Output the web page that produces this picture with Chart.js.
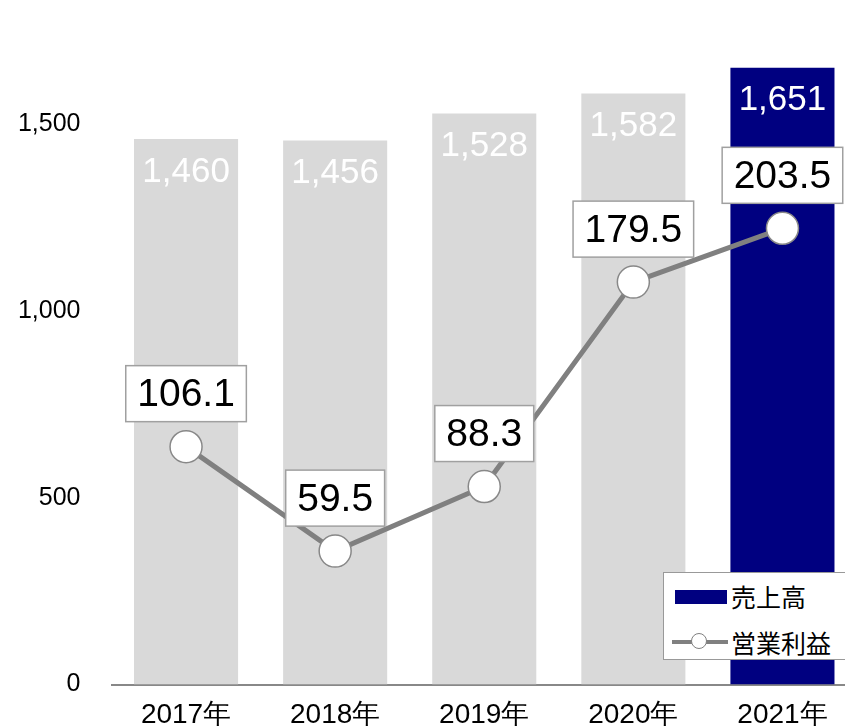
<!DOCTYPE html>
<html>
<head>
<meta charset="utf-8">
<script src="https://cdn.jsdelivr.net/npm/chart.js@4/dist/chart.umd.min.js"></script>
<style>
  html, body { margin: 0; padding: 0; background: #fff; overflow: hidden; width: 845px; height: 726px; }
  #wrap { position: relative; width: 845px; height: 726px; overflow: hidden; }
  #chart { position: absolute; left: 0; top: 0; }
  #legend {
    position: absolute; left: 663px; top: 572px; width: 200px; height: 88px;
    background: #fff; border: 1.5px solid #999; box-sizing: border-box;
    font-family: "Noto Sans CJK JP", sans-serif; font-size: 25px; color: #000;
  }
  .row { position: absolute; left: 0; height: 30px; line-height: 30px; }
  .row span.t { position: absolute; left: 67px; top: 0; white-space: nowrap; }
  .sw-bar { position: absolute; left: 11px; top: 9px; width: 52px; height: 14px; background: #000080; }
  .sw-line { position: absolute; left: 8px; top: 13px; width: 56px; height: 4px; background: #808080; }
  .sw-dot { position: absolute; left: 27px; top: 6px; width: 16px; height: 16px; border-radius: 50%;
            background: #fff; border: 1.5px solid #808080; box-sizing: border-box; }
</style>
</head>
<body>
<div id="wrap">
  <canvas id="chart" width="857" height="726"></canvas>
  <div id="legend">
    <div class="row" style="top:8px"><div class="sw-bar"></div><span class="t">売上高</span></div>
    <div class="row" style="top:54px"><div class="sw-line"></div><div class="sw-dot"></div><span class="t">営業利益</span></div>
  </div>
</div>
<script>
const years = ['2017年', '2018年', '2019年', '2020年', '2021年'];
const sales = [1460, 1456, 1528, 1582, 1651];
const profit = [106.1, 59.5, 88.3, 179.5, 203.5];
const salesTicks = [0, 500, 1000, 1500];

const barColors = ['#d9d9d9', '#d9d9d9', '#d9d9d9', '#d9d9d9', '#000080'];

// value labels drawn on top of the bars and points
const valueLabels = {
  id: 'valueLabels',
  afterDatasetsDraw(chart) {
    const ctx = chart.ctx;
    ctx.save();
    ctx.textAlign = 'center';
    ctx.textBaseline = 'middle';

    const barMeta = chart.getDatasetMeta(1);
    ctx.font = '35px "Liberation Sans", Arial, sans-serif';
    ctx.fillStyle = '#ffffff';
    barMeta.data.forEach((bar, i) => {
      ctx.fillText(sales[i].toLocaleString('en-US'), bar.x, bar.y + 33);
    });

    const lineMeta = chart.getDatasetMeta(0);
    ctx.font = '39px "Liberation Sans", Arial, sans-serif';
    lineMeta.data.forEach((pt, i) => {
      const txt = profit[i].toFixed(1);
      const w = ctx.measureText(txt).width + 23;
      const h = 56;
      const cy = pt.y - 53;
      ctx.fillStyle = '#ffffff';
      ctx.fillRect(pt.x - w / 2, cy - h / 2, w, h);
      ctx.strokeStyle = '#a0a0a0';
      ctx.lineWidth = 1.5;
      ctx.strokeRect(pt.x - w / 2, cy - h / 2, w, h);
      ctx.fillStyle = '#000';
      ctx.fillText(txt, pt.x, cy + 2);
    });
    ctx.restore();
  }
};

new Chart(document.getElementById('chart'), {
  data: {
    labels: years,
    datasets: [
      {
        type: 'line',
        label: '営業利益',
        data: profit,
        yAxisID: 'y2',
        order: 0,
        borderColor: '#808080',
        borderWidth: 5,
        pointRadius: 16,
        pointBackgroundColor: '#ffffff',
        pointBorderColor: '#888888',
        pointBorderWidth: 1.5,
        tension: 0
      },
      {
        type: 'bar',
        label: '売上高',
        data: sales,
        yAxisID: 'y',
        order: 1,
        backgroundColor: barColors,
        categoryPercentage: 1,
        barPercentage: 0.698
      }
    ]
  },
  options: {
    responsive: false,
    animation: false,
    layout: { autoPadding: false, padding: { top: 12, right: 0, left: 0, bottom: 0 } },
    plugins: { legend: { display: false }, tooltip: { enabled: false } },
    scales: {
      x: {
        grid: { display: false, drawTicks: false },
        border: { display: true, color: '#888888', width: 2 },
        ticks: {
          color: '#000',
          padding: 14,
          font: { family: '"Liberation Sans", Arial, sans-serif', size: 28 }
        },
        afterFit(scale) {
          scale.height = 41.5;
          scale.paddingLeft = 0;
          scale.paddingRight = 0;
        }
      },
      y: {
        position: 'left',
        min: 0,
        max: 1800,
        grid: { display: false, drawTicks: false },
        border: { display: false },
        afterBuildTicks(scale) { scale.ticks = salesTicks.map(v => ({ value: v })); },
        ticks: {
          color: '#000',
          padding: 31,
          font: { family: '"Liberation Sans", Arial, sans-serif', size: 25 },
          callback: v => v.toLocaleString('en-US')
        },
        afterFit(scale) {
          scale.width = 111.5;
          scale.paddingTop = 0;
          scale.paddingBottom = 0;
        }
      },
      y2: {
        display: false,
        min: 0,
        max: 300
      }
    }
  },
  plugins: [valueLabels]
});
</script>
</body>
</html>
